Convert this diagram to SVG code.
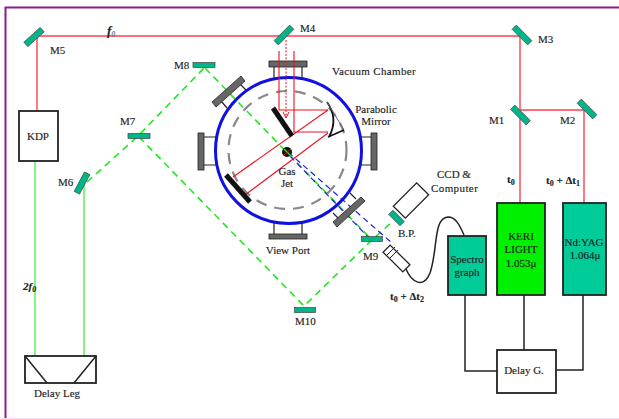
<svg xmlns="http://www.w3.org/2000/svg" width="619" height="419" viewBox="0 0 619 419">
<style>
text{font-family:"Liberation Serif","Times New Roman",serif;font-size:11px;fill:#222;stroke:#222;stroke-width:.15}
.b{font-weight:bold}
.c{text-anchor:middle}
.mir{fill:#00b58a;stroke:#444;stroke-width:.7}
.r{fill:none;stroke:#ff4050;stroke-width:1.4}
.rt{fill:none;stroke:#f01020;stroke-width:1.1}
.g{fill:none;stroke:#40f040;stroke-width:1.3}
.gd{fill:none;stroke:#20e820;stroke-width:1.6;stroke-dasharray:7 5}
.bd{fill:none;stroke:#2020e0;stroke-width:1.2;stroke-dasharray:6 4}
.k{fill:none;stroke:#222;stroke-width:1.5}
.box{fill:#fff;stroke:#222;stroke-width:1.8}
.fl{fill:#666;stroke:#222;stroke-width:.8}
</style>
<rect width="619" height="419" fill="#fff"/>
<path d="M5.500 419V7.500H619" fill="none" stroke="#8f1a8f" stroke-width="2"/>
<path d="M0 418.500H619" stroke="#f5dcf5" stroke-width="1"/>
<g id="connectors">
<path class="r" d="M37 111V36H520V203M520 110H584V203"/>
<path class="g" d="M35 161V366H84V184"/>
<path class="gd" d="M87 182L137 137L204 68M139 137L304 306L372 240L392 222"/>
<path class="gd" d="M205 68L372 240"/>
<path class="k" d="M465 295V371H497M524 295V350M583 295V370H557"/>
<path class="k" d="M406 269C411 281 423 290 430 273C438 250 433 218 448 217C456 217 460 226 464 235"/>
<path class="bd" d="M288 152L392 243M290 156L369 238"/>
</g>
<g id="vacuum-chamber">
<path class="k" style="stroke-width:1.200" d="M274 67V78M302 67V78M204 137H216M204 165H216M361 137H371M361 165H371M274 222V234M302 222V234M221 101L227 108M239 83L246 90M333 213L339 219M350 193L356 199"/>
<rect class="fl" x="269" y="61" width="38" height="6"/>
<rect class="fl" x="269" y="234" width="38" height="5"/>
<rect class="fl" x="198" y="133" width="6" height="37"/>
<rect class="fl" x="371" y="133" width="6" height="37"/>
<path class="fl" d="M212 102L241 76L245 81L216 107Z"/>
<path class="fl" d="M333 222L361 197L365 201L337 227Z"/>
<circle cx="288.500" cy="150.500" r="73" fill="none" stroke="#1010e0" stroke-width="3"/>
<circle cx="287.500" cy="150" r="59" fill="none" stroke="#888" stroke-width="2.200" stroke-dasharray="11 8"/>
</g>
<g id="optics">
<path class="rt" d="M279 51V110H328M294 51V132H328M328 110L233 177M328 133L245 195"/>
<path d="M286 40V117" stroke="#f01020" stroke-width="1" stroke-dasharray="2 1.500" fill="none"/>
<path d="M283 112L286 118L289 112" fill="none" stroke="#f01020" stroke-width="1"/>
<path d="M273 108L292 136" stroke="#111" stroke-width="5"/>
<path d="M226 175L250 202" stroke="#111" stroke-width="5"/>
<path d="M327 102C334 112 336 124 329 137" fill="none" stroke="#111" stroke-width="1.800"/>
<path d="M327 102L344 130" fill="none" stroke="#666" stroke-width="1"/>
<path d="M344 130L328 137" fill="none" stroke="#111" stroke-width="1.600"/>
<circle cx="287" cy="152" r="5" fill="#111"/>
<path d="M284 149L292 157" stroke="#20e820" stroke-width="1.500"/>
<path d="M284 155L291 149" stroke="#f01020" stroke-width="1"/>
</g>
<g id="M5"><rect class="mir" x="-11" y="-3" width="22" height="6" transform="translate(34 37) rotate(-42)"/><text x="50" y="54">M5</text></g>
<g id="M4"><rect class="mir" x="-11" y="-3" width="22" height="6" transform="translate(284 35) rotate(-45)"/><text x="300" y="32">M4</text></g>
<g id="M3"><rect class="mir" x="-11" y="-3" width="22" height="6" transform="translate(522 35) rotate(45)"/><text x="538" y="43">M3</text></g>
<g id="M1"><rect class="mir" x="-11" y="-3" width="22" height="6" transform="translate(520.500 115) rotate(45)"/><text x="489" y="124">M1</text></g>
<g id="M2"><rect class="mir" x="-11" y="-3" width="22" height="6" transform="translate(587 109) rotate(45)"/><text x="560" y="124">M2</text></g>
<g id="M6"><rect class="mir" x="-11" y="-3" width="22" height="6" transform="translate(82 183) rotate(-62)"/><text x="58" y="186">M6</text></g>
<g id="M7"><rect class="mir" x="-11" y="-2.500" width="22" height="5" transform="translate(139 136)"/><text x="120" y="125">M7</text></g>
<g id="M8"><rect class="mir" x="-11" y="-2.500" width="22" height="5" transform="translate(204 65)"/><text x="174" y="69">M8</text></g>
<g id="M9"><rect class="mir" x="-10.500" y="-2.500" width="21" height="5" transform="translate(372 239)"/><text x="363" y="260">M9</text></g>
<g id="M10"><rect class="mir" x="-10.500" y="-2.500" width="21" height="5" transform="translate(305 310)"/><text x="295" y="325">M10</text></g>
<g id="BP"><rect class="mir" x="-8" y="-3" width="16" height="6" transform="translate(396.500 218) rotate(45)"/><text x="398" y="237">B.P.</text></g>
<g id="CCD"><rect class="box" x="-16.500" y="-8.500" width="33" height="17" transform="translate(411 200.500) rotate(-45)" style="stroke-width:1.300"/><text x="437" y="178">CCD &amp;</text><text x="431" y="192" letter-spacing=".4">Computer</text></g>
<g id="detector"><rect class="box" x="-14" y="-5" width="28" height="10" transform="translate(396.500 258.500) rotate(45)" style="stroke-width:1.300"/><path class="k" style="stroke-width:1" d="M386 256L395 247M389 259L398 250"/><text class="b" x="390" y="300">t<tspan dy="2" font-size="8">0</tspan><tspan dy="-2"> + Δt</tspan><tspan dy="2" font-size="8">2</tspan></text></g>
<g id="KDP"><rect class="box" x="19" y="111" width="39" height="50"/><text class="c" x="38" y="140">KDP</text></g>
<g id="delay-leg"><rect class="box" x="25" y="356" width="71" height="27"/><path class="k" d="M25 356L47 383M96 356L74 383"/><text class="c" x="57" y="397">Delay Leg</text></g>
<g id="spectrograph"><rect x="448" y="236" width="38" height="59" fill="#00cc99" stroke="#222" stroke-width="1.800"/><text class="c" x="467" y="263">Spectro</text><text class="c" x="467" y="276">graph</text></g>
<g id="keri"><rect x="497" y="203" width="48" height="92" fill="#00f000" stroke="#222" stroke-width="1.800"/><text class="c" x="521" y="240">KERI</text><text class="c" x="521" y="253">LIGHT</text><text class="c" x="521" y="267">1.053μ</text></g>
<g id="ndyag"><rect x="563" y="203" width="43" height="92" fill="#00cc99" stroke="#222" stroke-width="1.800"/><text class="c" x="584" y="246">Nd:YAG</text><text class="c" x="585" y="259">1.064μ</text></g>
<g id="delay-g"><rect class="box" x="497" y="350" width="59" height="43"/><text class="c" x="524" y="374">Delay G.</text></g>
<g id="labels">
<text class="b" x="107" y="35" font-style="italic" style="font-size:13px">f<tspan dy="2" font-size="8" fill="#777" stroke="none">0</tspan></text>
<text class="b" x="23" y="290" font-style="italic" style="font-size:11px">2f<tspan dy="2" font-size="8">0</tspan></text>
<text x="332" y="75" letter-spacing=".35">Vacuum Chamber</text>
<text class="c" x="376" y="113">Parabolic</text><text class="c" x="376" y="125">Mirror</text>
<text class="c" x="287" y="175">Gas</text><text class="c" x="287" y="187">Jet</text>
<text class="c" x="288" y="254">View Port</text>
<text class="b" x="507" y="183">t<tspan dy="2" font-size="8">0</tspan></text>
<text class="b" x="546" y="184">t<tspan dy="2" font-size="8">0</tspan><tspan dy="-2"> + Δt</tspan><tspan dy="2" font-size="8">1</tspan></text>
</g>
</svg>
